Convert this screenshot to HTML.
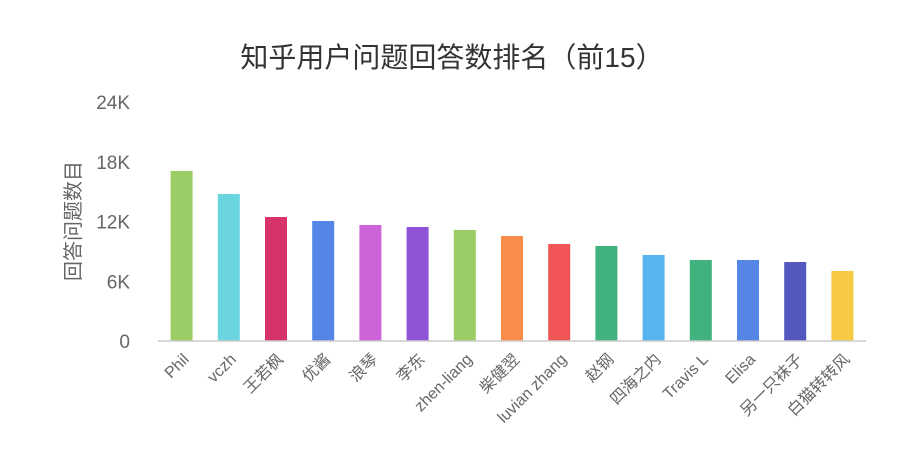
<!DOCTYPE html>
<html><head><meta charset="utf-8"><style>
body{margin:0;background:#fff;}
svg{display:block;font-family:"Liberation Sans","Noto Sans CJK SC",sans-serif;}
</style></head><body>
<svg id="chart" width="916" height="468">
<text x="452" y="67" text-anchor="middle" font-size="28" fill="#333">知乎用户问题回答数排名（前15）</text>
<text transform="translate(80,221) rotate(-90)" text-anchor="middle" font-size="20" fill="#666">回答问题数目</text>
<g id="yaxis"></g><g id="bars"></g><g id="xlabels"></g>
<line x1="158" y1="341" x2="866" y2="341" stroke="#ccc" stroke-width="1.5"/>
</svg>
<script>
const categories=["Phil","vczh","王若枫","优酱","浪琴","李东","zhen-liang","柴健翌","luvian zhang","赵钢","四海之内","Travis L","Elisa","另一只袜子","白猫转转风"];
const values=[17070,14760,12450,12050,11650,11450,11150,10540,9740,9540,8640,8130,8130,7930,7030];
const colors=["#9ccc65","#6ad5de","#d6336c","#5585e6","#cd63d9","#8e53d6","#9ccc65","#f98c4a","#f05454","#3fb27d","#56b4ef","#3fb27d","#5585e6","#5457bd","#f6c944"];
const yTicks=[0,6000,12000,18000,24000];
const yTickLabels=["0","6K","12K","18K","24K"];
const NS="http://www.w3.org/2000/svg";
const x0=158,x1=866,yB=341,yT=102,yMax=24000;
const band=(x1-x0)/categories.length;
function xs(i){return x0+band*(i+0.5);}
function ys(v){return yB-(v/yMax)*(yB-yT);}
const ya=document.getElementById('yaxis');
yTicks.forEach((t,i)=>{
 const tx=document.createElementNS(NS,'text');
 tx.setAttribute('x',130);tx.setAttribute('y',ys(t)+7);
 tx.setAttribute('text-anchor','end');tx.setAttribute('font-size','19');tx.setAttribute('fill','#666');
 tx.textContent=yTickLabels[i];
 
 
 ya.appendChild(tx);
});
const bg=document.getElementById('bars'),xl=document.getElementById('xlabels');
categories.forEach((c,i)=>{
 const r=document.createElementNS(NS,'rect');
 const w=22;
 r.setAttribute('x',xs(i)-w/2);r.setAttribute('y',ys(values[i]));
 r.setAttribute('width',w);r.setAttribute('height',yB-ys(values[i]));
 r.setAttribute('fill',colors[i]);
 
 
 bg.appendChild(r);
 const t=document.createElementNS(NS,'text');
 const lx=xs(i)+4,ly=356;
 t.setAttribute('transform','translate('+lx+','+ly+') rotate(-45)');
 t.setAttribute('text-anchor','end');t.setAttribute('font-size','16');t.setAttribute('fill','#666');
 t.setAttribute('dy','6');
 t.textContent=c;
 
 
 xl.appendChild(t);
});
</script>
</body></html>
